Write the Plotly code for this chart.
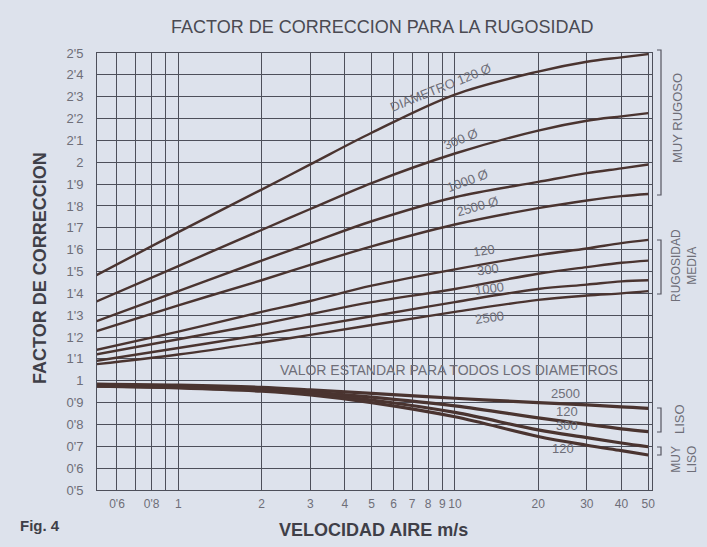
import plotly.graph_objects as go
import math

# ---------------- data ----------------
velocity = [0.5, 1, 2, 3, 5, 10, 20, 30, 40, 50]

# muy rugoso
rug_120 = [1.48, 1.68, 1.875, 1.99, 2.135, 2.31, 2.415, 2.46, 2.48, 2.495]
rug_300 = [1.36, 1.525, 1.69, 1.786, 1.905, 2.04, 2.145, 2.19, 2.21, 2.225]
rug_1000 = [1.27, 1.41, 1.55, 1.63, 1.73, 1.84, 1.91, 1.95, 1.972, 1.99]
rug_2500 = [1.225, 1.345, 1.46, 1.53, 1.615, 1.715, 1.79, 1.825, 1.845, 1.855]

# rugosidad media
med_120 = [1.14, 1.225, 1.315, 1.365, 1.435, 1.51, 1.575, 1.605, 1.63, 1.645]
med_300 = [1.12, 1.19, 1.26, 1.305, 1.36, 1.42, 1.49, 1.52, 1.54, 1.55]
med_1000 = [1.09, 1.15, 1.21, 1.248, 1.295, 1.36, 1.42, 1.44, 1.455, 1.46]
med_2500 = [1.075, 1.12, 1.175, 1.21, 1.255, 1.315, 1.37, 1.39, 1.40, 1.41]

# liso / muy liso
liso_2500 = [0.985, 0.98, 0.97, 0.958, 0.942, 0.92, 0.90, 0.89, 0.88, 0.874]
liso_120 = [0.98, 0.975, 0.962, 0.948, 0.925, 0.885, 0.83, 0.80, 0.78, 0.767]
mliso_300 = [0.975, 0.97, 0.957, 0.942, 0.912, 0.855, 0.775, 0.74, 0.715, 0.698]
mliso_120 = [0.975, 0.967, 0.952, 0.935, 0.90, 0.835, 0.745, 0.705, 0.68, 0.66]

x_tick_vals = [0.6, 0.7, 0.8, 0.9, 1, 2, 3, 4, 5, 6, 7, 8, 9, 10, 20, 30, 40, 50]
x_tick_text = ["0'6", "", "0'8", "", "1", "2", "3", "4", "5", "6", "7", "8", "9",
               "10", "20", "30", "40", "50"]
y_tick_vals = [0.5, 0.6, 0.7, 0.8, 0.9, 1.0, 1.1, 1.2, 1.3, 1.4, 1.5, 1.6, 1.7,
               1.8, 1.9, 2.0, 2.1, 2.2, 2.3, 2.4, 2.5]
y_tick_text = ["0'5", "0'6", "0'7", "0'8", "0'9", "1", "1'1", "1'2", "1'3", "1'4",
               "1'5", "1'6", "1'7", "1'8", "1'9", "2", "2'1", "2'2", "2'3", "2'4", "2'5"]

# ---------------- figure ----------------
BG = "#dde2ec"
LINE = "#4a3430"
GRID = "#4d4f5a"
TXT = "#6e6e78"
DARK = "#3f3f48"
FONT = "Liberation Sans Narrow, Liberation Sans, Arial, sans-serif"

fig = go.Figure()
for s in [rug_120, rug_300, rug_1000, rug_2500,
          med_120, med_300, med_1000, med_2500]:
    fig.add_trace(go.Scatter(x=velocity, y=s, mode="lines",
                             line=dict(color=LINE, width=2.4, shape="spline"),
                             showlegend=False, hoverinfo="skip"))
for s in [liso_2500, liso_120, mliso_300, mliso_120]:
    fig.add_trace(go.Scatter(x=velocity, y=s, mode="lines",
                             line=dict(color=LINE, width=3.2, shape="spline"),
                             showlegend=False, hoverinfo="skip"))

L, R, T, B = 97, 652, 53, 490
W, H = 707, 547


def px(x):
    return (x - L) / (R - L)


def py(y):
    return (B - y) / (B - T)


ann = []


def add(text, x, y, size=11, color=TXT, angle=0, bold=False):
    ann.append(dict(text=("<b>%s</b>" % text) if bold else text,
                    x=px(x), y=py(y), xref="paper", yref="paper",
                    showarrow=False, textangle=angle, xanchor="center",
                    yanchor="middle",
                    font=dict(size=size, color=color, family=FONT)))


add("FACTOR DE CORRECCION PARA LA RUGOSIDAD", 382, 27, size=18, color="#4a4a52")
add("FACTOR DE CORRECCION", 40, 268, size=18, color=DARK, angle=-90, bold=True)
add("VELOCIDAD AIRE m/s", 373, 530, size=18, color=DARK, bold=True)
add("Fig. 4", 40, 525, size=15, color=DARK, bold=True)

add("DIAMETRO 120 Ø", 441, 88, size=13, angle=-22)
add("300 Ø", 460, 139, size=13, angle=-22)
add("1000 Ø", 468, 180, size=13, angle=-20)
add("2500 Ø", 477, 206, size=13, angle=-16)
add("120", 484, 250, size=13, angle=-8)
add("300", 488, 269, size=13, angle=-8)
add("1000", 489, 288, size=13, angle=-8)
add("2500", 489, 317, size=13, angle=-8)
add("VALOR ESTANDAR PARA TODOS LOS DIAMETROS", 449, 370, size=14)
add("2500", 565, 393, size=13)
add("120", 567, 411, size=13)
add("300", 567, 425, size=13)
add("120", 563, 448, size=13)

add("MUY RUGOSO", 678, 118, size=13, angle=-90)
add("RUGOSIDAD<br>MEDIA", 684, 266, size=12, angle=-90)
add("LISO", 679, 419, size=13, angle=-90)
add("MUY<br>LISO", 684, 460, size=12, angle=-90)

shapes = []


def bracket(x, y0, y1, w=4):
    shapes.append(dict(type="path", xref="paper", yref="paper",
                       path="M %f %f L %f %f L %f %f L %f %f" % (
                           px(x - w), py(y0), px(x), py(y0),
                           px(x), py(y1), px(x - w), py(y1)),
                       line=dict(color="#555560", width=1.2)))


bracket(661, 50, 195)
bracket(661, 240, 294)
bracket(661, 408, 432)
bracket(661, 447, 455)

fig.update_layout(
    width=W, height=H,
    margin=dict(l=L, r=W - R, t=T, b=H - B),
    paper_bgcolor=BG, plot_bgcolor=BG,
    annotations=ann, shapes=shapes,
    showlegend=False,
    xaxis=dict(type="log", range=[math.log10(0.508), math.log10(51.6)],
               tickvals=x_tick_vals, ticktext=x_tick_text, tickangle=0,
               showgrid=True, gridcolor=GRID, gridwidth=1,
               showline=True, linecolor=GRID, linewidth=1, mirror=True,
               ticks="", zeroline=False, ticklabelstandoff=3,
               tickfont=dict(size=12, color=TXT, family=FONT)),
    yaxis=dict(range=[0.5, 2.5],
               tickvals=y_tick_vals, ticktext=y_tick_text,
               showgrid=True, gridcolor=GRID, gridwidth=1,
               showline=True, linecolor=GRID, linewidth=1, mirror=True,
               ticks="", zeroline=False, ticklabelstandoff=10,
               tickfont=dict(size=13, color=TXT, family=FONT)),
)

fig.write_html("out.html", config={"displayModeBar": False},
               post_script="document.body.style.margin='0';"
                           "document.body.style.background='%s';" % BG)
